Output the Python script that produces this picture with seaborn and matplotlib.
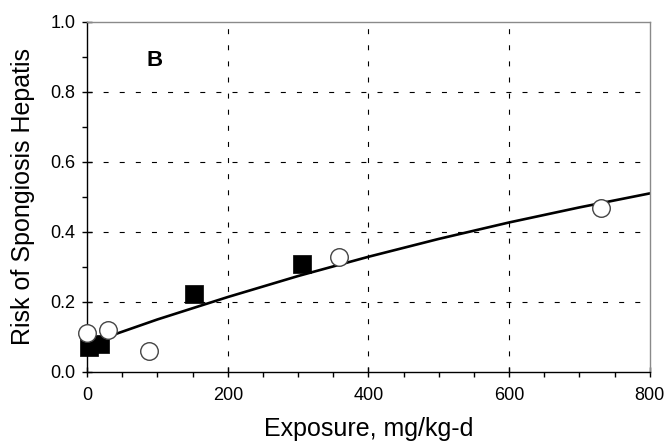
import numpy as np
import pandas as pd
import matplotlib
matplotlib.use('Agg')
import matplotlib.pyplot as plt
from matplotlib.ticker import MultipleLocator, FormatStrFormatter
import seaborn as sns

square_dose = [2, 18, 152, 306]
square_risk = [0.072, 0.080, 0.223, 0.309]
circle_dose = [0, 29, 88, 358, 731]
circle_risk = [0.111, 0.120, 0.060, 0.327, 0.469]

# Fitted curve
curve_dose = [0, 100, 200, 300, 400, 500, 600, 700, 800]
curve_risk = [0.080, 0.150, 0.214, 0.274, 0.329, 0.380, 0.427, 0.470, 0.510]

panel_label = 'B'

sns.set_theme(style='ticks')
plt.rcParams['font.family'] = ['Liberation Sans', 'DejaVu Sans']
plt.rcParams['text.color'] = 'black'
plt.rcParams['axes.labelcolor'] = 'black'

fig, ax = plt.subplots(figsize=(6.65, 4.46), dpi=100)
fig.subplots_adjust(left=0.131, right=0.977, top=0.951, bottom=0.166)

# dashed grid
for gx in [200, 400, 600]:
    ax.axvline(gx, color='black', lw=0.8, linestyle=(0, (4.5, 10)), zorder=1)
for gy in [0.2, 0.4, 0.6, 0.8]:
    ax.axhline(gy, color='black', lw=0.8, linestyle=(0, (4.5, 10)), zorder=1)

curve = pd.DataFrame({'dose': curve_dose, 'risk': curve_risk})
sns.lineplot(data=curve, x='dose', y='risk', color='black', lw=1.9, ax=ax, zorder=2)

sq = pd.DataFrame({'dose': square_dose, 'risk': square_risk})
sns.scatterplot(data=sq, x='dose', y='risk', marker='s', s=170, color='black',
                edgecolor='black', linewidth=0.5, ax=ax, zorder=3, clip_on=False)
ci = pd.DataFrame({'dose': circle_dose, 'risk': circle_risk})
sns.scatterplot(data=ci, x='dose', y='risk', marker='o', s=160, color='white',
                edgecolor='#444444', linewidth=1.0, ax=ax, zorder=4, clip_on=False)

ax.set_xlim(0, 800)
ax.set_ylim(0, 1.0)
ax.xaxis.set_major_locator(MultipleLocator(200))
ax.xaxis.set_minor_locator(MultipleLocator(50))
ax.yaxis.set_major_locator(MultipleLocator(0.2))
ax.yaxis.set_minor_locator(MultipleLocator(0.1))
ax.yaxis.set_major_formatter(FormatStrFormatter('%.1f'))

ax.tick_params(which='major', direction='inout', length=7, width=1, labelsize=13,
               colors='black', pad=7)
ax.tick_params(which='minor', direction='out', length=3.5, width=1, colors='black')
ax.tick_params(axis='y', which='major', pad=5)

for side in ['left', 'bottom']:
    ax.spines[side].set_color('black')
    ax.spines[side].set_linewidth(1.0)
for side in ['top', 'right']:
    ax.spines[side].set_visible(True)
    ax.spines[side].set_color('#8a8a8a')
    ax.spines[side].set_linewidth(1.0)

ax.set_xlabel('Exposure, mg/kg-d', fontsize=18)
ax.set_ylabel('Risk of Spongiosis Hepatis', fontsize=18)
ax.xaxis.set_label_coords(0.5, -0.13)
ax.yaxis.set_label_coords(-0.092, 0.5)

ax.text(96, 0.89, panel_label, fontsize=16, fontweight='bold', ha='center', va='center',
        color='black')

fig.savefig('out.png', dpi=100)
